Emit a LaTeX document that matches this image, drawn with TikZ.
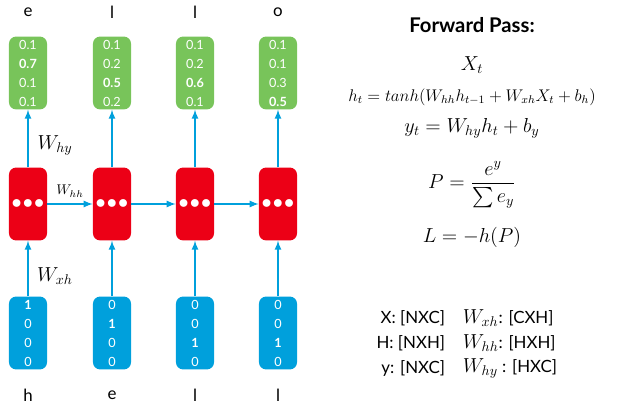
\documentclass[tikz,border=0pt]{standalone}
\usepackage{amsmath}
\usepackage{fontspec}
\setmainfont{Lato}
\usetikzlibrary{positioning}
\definecolor{cgreen}{RGB}{120,196,90}
\definecolor{cred}{RGB}{236,0,22}
\definecolor{cblue}{RGB}{0,160,220}
\tikzset{
  cell/.style={rounded corners=5pt,minimum width=0.95cm,minimum height=1.82cm,inner sep=0pt,align=center,text=white,font=\small,
    execute at begin node=\setlength{\baselineskip}{13.5pt}},
  outcell/.style={cell,fill=cgreen},
  hidcell/.style={cell,fill=cred,font=\Large\bfseries},
  incell/.style={cell,fill=cblue},
  conn/.style={draw=cblue,line width=1.2pt,-latex},
  char/.style={font=\large}
}
\begin{document}
\begin{tikzpicture}[x=0.025cm,y=-0.025cm]
    \useasboundingbox (0,0) rectangle (620,406);
    % network
    \node [outcell] (y1) at (28,73)  {0.1\\\textbf{0.7}\\0.1\\0.1};
    \node [outcell] (y2) at (112,73) {0.1\\0.2\\\textbf{0.5}\\0.2};
    \node [outcell] (y3) at (195,73) {0.1\\0.2\\\textbf{0.6}\\0.1};
    \node [outcell] (y4) at (278,73) {0.1\\0.1\\0.3\\\textbf{0.5}};

    \node [hidcell] (h1) at (28,204)  {$\bullet\!\bullet\!\bullet$};
    \node [hidcell] (h2) at (112,204) {$\bullet\!\bullet\!\bullet$};
    \node [hidcell] (h3) at (195,204) {$\bullet\!\bullet\!\bullet$};
    \node [hidcell] (h4) at (278,204) {$\bullet\!\bullet\!\bullet$};

    \node [incell] (x1) at (28,333)  {\textbf{1}\\0\\0\\0};
    \node [incell] (x2) at (112,333) {0\\\textbf{1}\\0\\0};
    \node [incell] (x3) at (195,333) {0\\0\\\textbf{1}\\0};
    \node [incell] (x4) at (278,333) {0\\0\\\textbf{1}\\0};

    \node [char] (t1) at (28,12)  {e};
    \node [char] (t2) at (112,12) {l};
    \node [char] (t3) at (195,12) {l};
    \node [char] (t4) at (278,12) {o};
    \node [char] (c1) at (28,395)  {h};
    \node [char] (c2) at (112,395) {e};
    \node [char] (c3) at (195,395) {l};
    \node [char] (c4) at (278,395) {l};

    \foreach \i in {1,2,3,4} {
      \draw [conn] (h\i) -- (y\i);
      \draw [conn] (x\i) -- (h\i);
    }
    \draw [conn] (h1) -- node[above=1pt] {$W_{hh}$} (h2);
    \draw [conn] (h2) -- (h3);
    \draw [conn] (h3) -- (h4);
    \node [font=\Large] (why) at (55,145) {$W_{hy}$};
    \node [font=\Large] (wxh) at (55,276) {$W_{xh}$};

    % equations
    \node [font=\Large\bfseries] (title) at (472,25) {Forward Pass:};
    \node [font=\Large] (e1) at (472,65)  {$X_t$};
    \node [font=\large] (e2) at (472,97)  {$h_t = tanh(W_{hh}h_{t-1} + W_{xh}X_t + b_h)$};
    \node [font=\Large,inner sep=1pt] (e3) at (472,128) {$y_t = W_{hy}h_t + b_y$};
    \node [font=\Large,inner sep=1pt] (e4) at (472,185) {$P = \dfrac{e^y}{\sum e_y}$};
    \node [font=\Large] (e5) at (472,237) {$L = -h(P)$};

    % shapes
    \node [anchor=east,font=\large] (s1) at (450,318) {X: [NXC]};
    \node [anchor=east,font=\large] (s2) at (450,343) {H: [NXH]};
    \node [anchor=east,font=\large] (s3) at (450,368) {y: [NXC]};
    \node [anchor=west,font=\large] (d1) at (458,318) {{\Large$W_{xh}$}: [CXH]};
    \node [anchor=west,font=\large] (d2) at (458,343) {{\Large$W_{hh}$}: [HXH]};
    \node [anchor=west,font=\large] (d3) at (458,368) {{\Large$W_{hy}$} : [HXC]};
\end{tikzpicture}
\end{document}
